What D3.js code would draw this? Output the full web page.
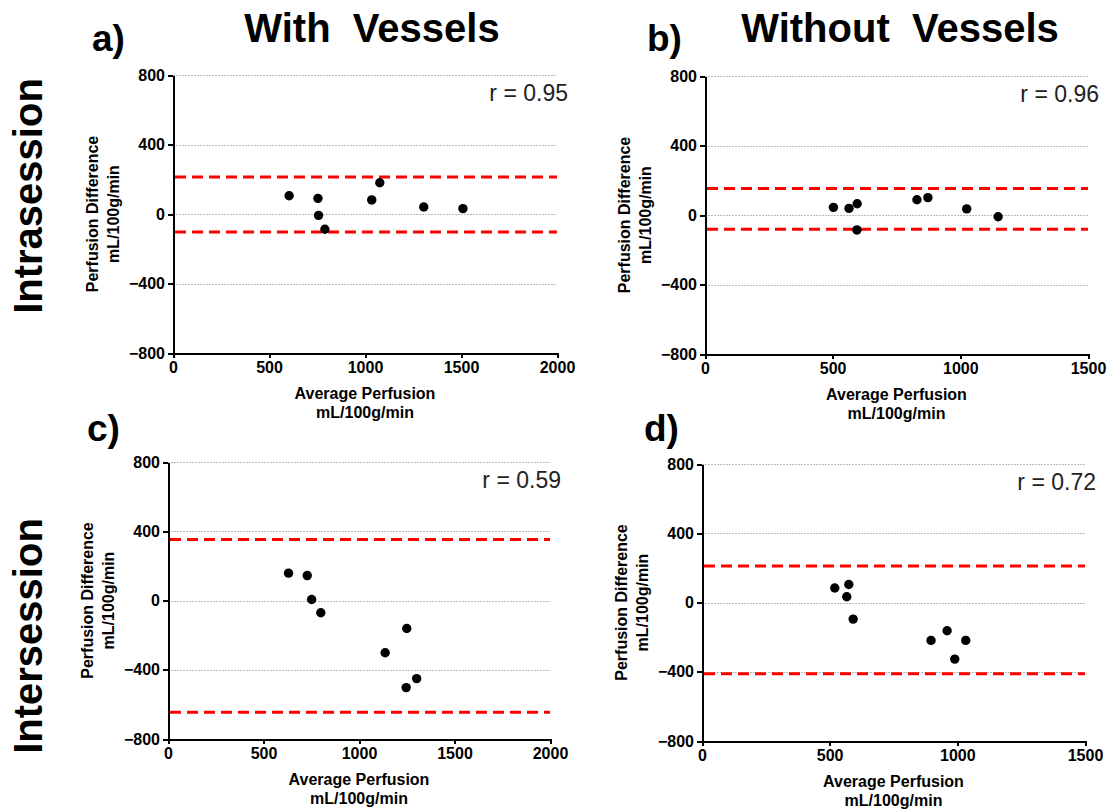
<!DOCTYPE html>
<html lang="en">
  <head>
    <meta charset="utf-8">
    <title>Bland-Altman plots: perfusion with and without vessels</title>
    <script src="https://cdnjs.cloudflare.com/ajax/libs/d3/7.8.0/d3.min.js"></script>
    <style>
      body { margin: 0; background: #fff; }
      svg text { font-family: "Liberation Sans", Arial, sans-serif; }
      .axis path, .axis line { stroke: #000; stroke-width: 2px; shape-rendering: crispEdges; }
      .axis text { font-family: "Liberation Sans", Arial, sans-serif; font-size: 16px; font-weight: bold; fill: #000; }
      .grid { stroke: #bbb; stroke-width: 1px; stroke-dasharray: 1.5,1.5; shape-rendering: crispEdges; }
      .limit { stroke: #f00; stroke-width: 3px; stroke-dasharray: 11,6; }
      .axis-label { font-size: 16px; font-weight: bold; text-anchor: middle; }
      .r-label { font-size: 23px; text-anchor: end; fill: #222; }
      .letter { font-size: 37px; font-weight: bold; }
      .col-title { font-size: 40px; font-weight: bold; text-anchor: middle; white-space: pre; }
      .row-title { font-size: 40px; font-weight: bold; text-anchor: middle; }
    </style>
  </head>
  <body>
    <div id="chartContainer"></div>

    <script type="text/javascript">
      // Data (average perfusion vs. perfusion difference)
      var panelLetters = ["a)", "b)", "c)", "d)"];
      var rLabels = ["r = 0.95", "r = 0.96", "r = 0.59", "r = 0.72"];
      var xMaxes = [2000, 1500, 2000, 1500];
      var yTicks = [-800, -400, 0, 400, 800];
      var gridTicks = [-400, 0, 400, 800];

      var aAvg  = [605, 755, 758, 791, 1035, 1077, 1306, 1510];
      var aDiff = [105, 90, -8, -88, 81, 180, 40, 31];
      var aLimits = [213, -104];

      var bAvg  = [503, 564, 596, 595, 830, 873, 1025, 1148];
      var bDiff = [44, 38, 65, -86, 88, 100, 35, -10];
      var bLimits = [153, -82];

      var cAvg  = [631, 729, 752, 800, 1137, 1250, 1247, 1302];
      var cDiff = [158, 144, 6, -71, -302, -162, -503, -451];
      var cLimits = [353, -645];

      var dAvg  = [520, 575, 567, 592, 897, 960, 1033, 990];
      var dDiff = [84, 104, 33, -96, -219, -163, -219, -327];
      var dLimits = [211, -411];

      var avgs = [aAvg, bAvg, cAvg, dAvg];
      var diffs = [aDiff, bDiff, cDiff, dDiff];
      var limits = [aLimits, bLimits, cLimits, dLimits];

      // Plot boxes in page pixels: left, right, top, bottom
      var boxes = [
        { l: 173, r: 557, t: 75, b: 353 },
        { l: 705, r: 1088, t: 76, b: 354 },
        { l: 168, r: 550, t: 462, b: 739 },
        { l: 702, r: 1085, t: 464, b: 741 }
      ];

      var svg = d3.select("#chartContainer")
                  .append("svg")
                  .attr("width", 1109)
                  .attr("height", 810);

      // Column and row titles
      svg.append("text").attr("class", "col-title").attr("x", 372).attr("y", 42).text("With  Vessels");
      svg.append("text").attr("class", "col-title").attr("x", 900).attr("y", 42).text("Without  Vessels");
      svg.append("text").attr("class", "row-title")
         .attr("transform", "translate(42,196) rotate(-90)").text("Intrasession");
      svg.append("text").attr("class", "row-title")
         .attr("transform", "translate(42,636) rotate(-90)").text("Intersession");

      boxes.forEach(function(box, i) {
        var x = d3.scaleLinear().domain([0, xMaxes[i]]).range([box.l, box.r]);
        var y = d3.scaleLinear().domain([-800, 800]).range([box.b, box.t]);
        var g = svg.append("g");

        // dotted grid lines
        g.selectAll(".grid")
         .data(gridTicks)
         .enter().append("line")
         .attr("class", "grid")
         .attr("x1", box.l).attr("x2", box.r)
         .attr("y1", function(d) { return Math.round(y(d)) + 0.5; })
         .attr("y2", function(d) { return Math.round(y(d)) + 0.5; });

        // limits of agreement
        g.selectAll(".limit")
         .data(limits[i])
         .enter().append("line")
         .attr("class", "limit")
         .attr("x1", box.l + 2).attr("x2", box.r)
         .attr("y1", function(d) { return y(d); })
         .attr("y2", function(d) { return y(d); });

        // axes
        g.append("g")
         .attr("class", "axis")
         .attr("transform", "translate(" + box.l + ",0)")
         .call(d3.axisLeft(y).tickValues(yTicks).tickSize(5).tickSizeOuter(0).tickPadding(3));

        g.append("g")
         .attr("class", "axis")
         .attr("transform", "translate(0," + box.b + ")")
         .call(d3.axisBottom(x).ticks(4).tickFormat(d3.format("d"))
                 .tickSize(5).tickSizeOuter(0).tickPadding(4));

        // points
        g.selectAll(".dot")
         .data(avgs[i].map(function(v, k) { return [v, diffs[i][k]]; }))
         .enter().append("circle")
         .attr("class", "dot")
         .attr("cx", function(d) { return x(d[0]); })
         .attr("cy", function(d) { return y(d[1]); })
         .attr("r", 4.7)
         .attr("fill", "#000");

        // labels
        var midY = (box.t + box.b) / 2;
        var ylab = g.append("text")
                    .attr("class", "axis-label")
                    .attr("transform", "translate(" + (box.l - 75) + "," + midY + ") rotate(-90)");
        ylab.append("tspan").attr("x", 0).attr("dy", 0).text("Perfusion Difference");
        ylab.append("tspan").attr("x", 0).attr("dy", 21).text("mL/100g/min");

        var midX = (box.l + box.r) / 2;
        g.append("text").attr("class", "axis-label")
         .attr("x", midX).attr("y", box.b + 46).text("Average Perfusion");
        g.append("text").attr("class", "axis-label")
         .attr("x", midX).attr("y", box.b + 65).text("mL/100g/min");

        g.append("text").attr("class", "r-label")
         .attr("x", box.r + 11).attr("y", box.t + 26).text(rLabels[i]);

        g.append("text").attr("class", "letter")
         .attr("x", box.l - 81 + (i % 2 === 1 ? 23 : 0)).attr("y", i < 2 ? 51 : 441)
         .text(panelLetters[i]);
      });
    </script>
  </body>
</html>
